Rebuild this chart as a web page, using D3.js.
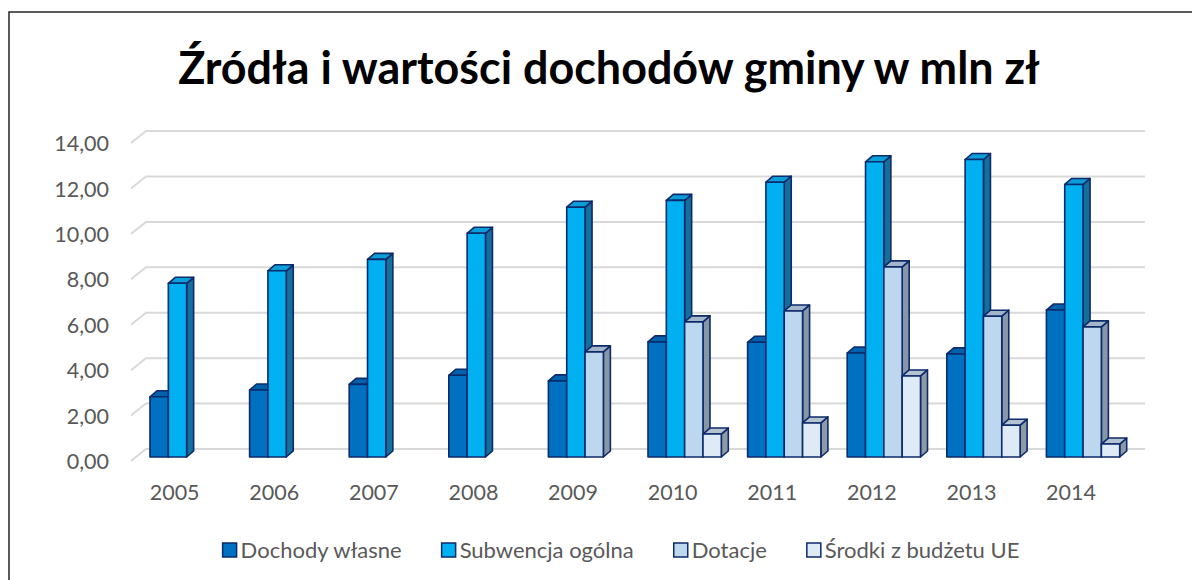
<!DOCTYPE html>
<html>
<head>
<meta charset="utf-8">
<script src="https://cdn.jsdelivr.net/npm/d3@7"></script>
<style>
  html, body { margin: 0; padding: 0; background: #ffffff; }
  svg { display: block; }
  text { font-family: Lato, "Open Sans", sans-serif; }
</style>
</head>
<body>
<svg id="chart" width="1192" height="580"></svg>
<script>
// ---- data ----
const years = ['2005','2006','2007','2008','2009','2010','2011','2012','2013','2014'];
const seriesNames = ['Dochody własne','Subwencja ogólna','Dotacje','Środki z budżetu UE'];
const dochodyWlasne = [2.65, 2.95, 3.20, 3.60, 3.35, 5.07, 5.05, 4.58, 4.54, 6.47];
const subwencjaOgolna = [7.65, 8.20, 8.70, 9.85, 11.00, 11.30, 12.10, 13.00, 13.10, 12.00];
const dotacje = [null, null, null, null, 4.63, 5.95, 6.43, 8.37, 6.20, 5.73];
const srodkiUE = [null, null, null, null, null, 1.01, 1.50, 3.57, 1.40, 0.57];
const yTicks = [0, 2, 4, 6, 8, 10, 12, 14];
const titleText = 'Źródła i wartości dochodów gminy w mln zł';

// ---- styles ----
const front = ['#0070c0', '#00b0f0', '#bdd7ee', '#deebf7'];
const top_ = ['#0062aa', '#0a9fd8', '#a3b6c9', '#b5c2cf'];
const side = ['#0b5a8c', '#136f9c', '#8797a7', '#8e9aa6'];
const outline = '#0d2a6b';

const series = [dochodyWlasne, subwencjaOgolna, dotacje, srodkiUE];

const svg = d3.select('#chart');

// border
svg.append('rect').attr('x', 9).attr('y', 12).attr('width', 1300).attr('height', 700)
  .attr('fill', 'none').attr('stroke', '#262626').attr('stroke-width', 1.5);

// title
const title = svg.append('text').attr('x', 609).attr('y', 84)
  .attr('text-anchor', 'middle').attr('font-weight', 700).attr('font-size', 44)
  .attr('fill', '#000').text(titleText);
{
  const w = title.node().getComputedTextLength();
  title.attr('font-size', 44 * 862 / w);
}

// scales
const y = d3.scaleLinear().domain([0, 14]).range([457, 457 - 14 * 22.71]);
const x = d3.scaleBand().domain(years).range([136.85, 1132.85]).paddingInner(0.264).paddingOuter(0.132);
const xs = d3.scaleBand().domain(d3.range(seriesNames.length)).range([0, x.bandwidth()]);

const backDy = -8, frontDy = 4;
const gridX0 = 131, gridX1 = 146, gridXEnd = 1145;

// gridlines (3D back wall + floor diagonal)
const grid = svg.append('g');
yTicks.forEach(t => {
  grid.append('path')
    .attr('d', d3.line()([[gridX0, y(t) + frontDy], [gridX1, y(t) + backDy], [gridXEnd, y(t) + backDy]]))
    .attr('fill', 'none').attr('stroke', '#d9d9d9').attr('stroke-width', 2);
});

// y axis labels
const loc = d3.formatLocale({decimal: ',', thousands: ' ', grouping: [3], currency: ['', ' zł']});
const fmt = loc.format('.2f');
const yAxis = d3.axisLeft(y).tickValues(yTicks).tickFormat(fmt).tickSize(0).tickPadding(0);
const gy = svg.append('g').attr('transform', `translate(109, ${frontDy})`).call(yAxis);
gy.select('.domain').remove();
gy.selectAll('text').attr('font-size', 21.5).attr('fill', '#595959')
  .style('font-family', 'Lato, "Open Sans", sans-serif').attr('dy', '0.35em');

// x axis labels
const xAxis = d3.axisBottom(x).tickSize(0).tickPadding(0);
const gx = svg.append('g').attr('transform', `translate(-12, 492)`).call(xAxis);
gx.select('.domain').remove();
gx.selectAll('text').attr('font-size', 21.5).attr('fill', '#595959')
  .style('font-family', 'Lato, "Open Sans", sans-serif').attr('dy', '0.35em');

// 3D bars
const dX = 7, dY = -6;
const bars = svg.append('g');
years.forEach((yr, i) => {
  series.forEach((arr, s) => {
    const v = arr[i];
    if (v == null) return;
    const x0 = x(yr) + xs(s), x1 = x0 + xs.bandwidth();
    const yt = y(v), yb = y(0);
    const g = bars.append('g').attr('stroke', outline).attr('stroke-width', 1.6).attr('stroke-linejoin', 'round');
    g.append('path').attr('d', d3.line()([[x1, yt], [x1 + dX, yt + dY], [x1 + dX, yb + dY], [x1, yb]]) + 'Z')
      .attr('fill', side[s]);
    g.append('path').attr('d', d3.line()([[x0, yt], [x0 + dX, yt + dY], [x1 + dX, yt + dY], [x1, yt]]) + 'Z')
      .attr('fill', top_[s]);
    g.append('rect').attr('x', x0).attr('y', yt).attr('width', x1 - x0).attr('height', yb - yt)
      .attr('fill', front[s]);
  });
});

// legend
const legend = svg.append('g').attr('transform', 'translate(0, 550)');
const sq = 14, gap = 4, itemGap = 40;
const items = [];
seriesNames.forEach((name, s) => {
  const it = legend.append('g');
  it.append('rect').attr('x', 0).attr('y', -sq / 2).attr('width', sq).attr('height', sq)
    .attr('fill', front[s]).attr('stroke', outline).attr('stroke-width', 1.5);
  const t = it.append('text').attr('x', sq + gap).attr('y', 0).attr('dy', '0.35em')
    .attr('font-size', 22).attr('fill', '#595959').text(name);
  const w = sq + gap + t.node().getComputedTextLength();
  items.push({it, w});
});
const total = d3.sum(items, d => d.w) + itemGap * (items.length - 1);
let lx = 621 - total / 2;
items.forEach(d => {
  d.it.attr('transform', `translate(${lx}, 0)`);
  lx += d.w + itemGap;
});
</script>
</body>
</html>
